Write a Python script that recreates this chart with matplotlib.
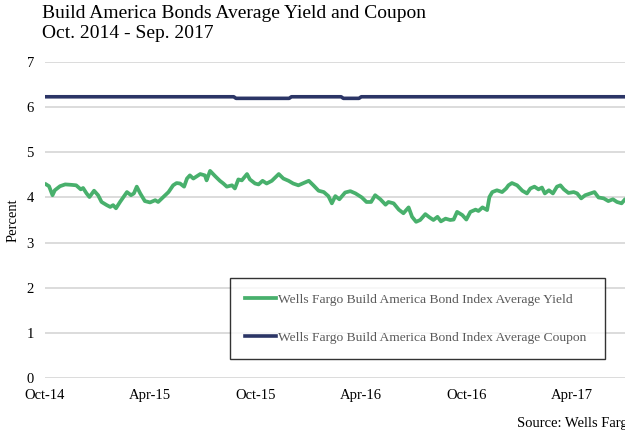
import matplotlib
matplotlib.use("Agg")
import matplotlib.pyplot as plt
import pandas as pd

# ---- data ----
start_date = "2014-10-01"
end_date = "2017-09-30"

yield_days = [2, 7, 13, 17, 26, 35, 46, 54, 62, 66, 72, 77, 85, 92, 98, 107, 113, 118,
              123, 130, 136, 142, 149, 154, 159, 165, 173, 182, 191, 196, 205, 214, 222,
              228, 234, 241, 246, 251, 257, 269, 277, 280, 286, 295, 303, 309, 315, 324,
              329, 335, 341, 350, 355, 364, 370, 377, 384, 393, 405, 413, 422, 430, 439,
              448, 457, 465, 474, 483, 491, 497, 503, 510, 520, 529, 538, 549, 557, 565,
              572, 581, 590, 595, 604, 613, 621, 630, 636, 643, 650, 659, 666, 673, 680,
              686, 694, 702, 708, 714, 723, 730, 737, 746, 751, 758, 766, 770, 775, 783,
              792, 799, 803, 809, 818, 827, 835, 841, 848, 855, 861, 866, 873, 880, 887,
              893, 899, 907, 916, 922, 929, 936, 945, 952, 959, 968, 976, 984, 991, 999,
              1005, 1012]
yield_pct = [4.29, 4.25, 4.05, 4.16, 4.25, 4.29, 4.28, 4.27, 4.18, 4.21, 4.09, 4.01, 4.15,
             4.05, 3.90, 3.83, 3.79, 3.83, 3.76, 3.90, 4.01, 4.12, 4.05, 4.09, 4.24, 4.09,
             3.92, 3.89, 3.94, 3.90, 4.01, 4.12, 4.27, 4.32, 4.31, 4.24, 4.42, 4.49, 4.42,
             4.52, 4.49, 4.38, 4.59, 4.47, 4.37, 4.31, 4.24, 4.27, 4.20, 4.40, 4.38, 4.52,
             4.40, 4.31, 4.29, 4.37, 4.31, 4.37, 4.52, 4.42, 4.37, 4.31, 4.27, 4.32, 4.37,
             4.27, 4.15, 4.12, 4.03, 3.87, 4.03, 3.96, 4.11, 4.14, 4.09, 4.00, 3.90, 3.90,
             4.05, 3.96, 3.84, 3.90, 3.87, 3.73, 3.65, 3.78, 3.57, 3.46, 3.50, 3.63, 3.56,
             3.50, 3.57, 3.47, 3.53, 3.50, 3.51, 3.68, 3.61, 3.51, 3.68, 3.73, 3.70, 3.78,
             3.72, 4.01, 4.12, 4.16, 4.12, 4.20, 4.27, 4.32, 4.27, 4.15, 4.09, 4.20, 4.24,
             4.18, 4.22, 4.09, 4.16, 4.09, 4.24, 4.27, 4.18, 4.10, 4.12, 4.09, 3.98, 4.05,
             4.09, 4.12, 4.00, 3.98, 3.92, 3.96, 3.90, 3.87, 3.96, 3.95]

coupon_days = [0, 327, 331, 423, 427, 513, 517, 544, 548, 1095]
coupon_pct = [6.235, 6.235, 6.20, 6.20, 6.235, 6.235, 6.20, 6.20, 6.235, 6.235]

tick_labels = ["Oct-14", "Apr-15", "Oct-15", "Apr-16", "Oct-16", "Apr-17"]
tick_dates = ["2014-10-01", "2015-04-01", "2015-10-01", "2016-04-01", "2016-10-01", "2017-04-01"]
y_ticks = [0, 1, 2, 3, 4, 5, 6, 7]

yield_label = "Wells Fargo Build America Bond Index Average Yield"
coupon_label = "Wells Fargo Build America Bond Index Average Coupon"
title = "Build America Bonds Average Yield and Coupon\nOct. 2014 - Sep. 2017"
source = "Source: Wells Fargo"

# ---- styling ----
SERIF = ["Liberation Serif", "DejaVu Serif"]
plt.rcParams["font.family"] = SERIF
GREEN = "#48B06C"
NAVY = "#2B3566"
FS = 10.5

base = pd.Timestamp(start_date)
yield_dates = [base + pd.Timedelta(days=d) for d in yield_days]
coupon_dates = [base + pd.Timedelta(days=d) for d in coupon_days]

fig = plt.figure(figsize=(6.25, 4.33), dpi=100)
W, H = 625, 433
left, right, top, bottom = 45, 677, 62.3, 377.7
ax = fig.add_axes([left / W, 1 - bottom / H, (right - left) / W, (bottom - top) / H])

ax.plot(yield_dates, yield_pct, color=GREEN, lw=2.7, solid_joinstyle="round", label=yield_label, zorder=3)
ax.plot(coupon_dates, coupon_pct, color=NAVY, lw=2.6, label=coupon_label, zorder=3)

ax.set_xlim(pd.Timestamp(start_date), pd.Timestamp(end_date))
ax.set_ylim(0, 7)
ax.set_yticks(y_ticks)
ax.set_xticks([pd.Timestamp(t) for t in tick_dates])
ax.set_xticklabels(tick_labels)
ax.tick_params(axis="both", length=0, labelsize=FS, colors="black")
ax.tick_params(axis="x", pad=8)
ax.tick_params(axis="y", pad=8)
ax.grid(axis="y", color="#D9D9D9", lw=1.3, zorder=0)
ax.grid(axis="x", visible=False)
for s in ax.spines.values():
    s.set_visible(False)
ax.set_ylabel("Percent", fontsize=FS, labelpad=5)

fig.text(42 / W, 1 - 5 / H, title, fontsize=14, va="top", ha="left", linespacing=1.2)
fig.text(517 / W, 1 - 423 / H, source, fontsize=FS, va="center", ha="left")

leg = ax.legend(loc="upper left", bbox_to_anchor=(230 / W, 1 - 357 / H, 375 / W, 79 / H),
                bbox_transform=fig.transFigure, mode="expand", frameon=True, fancybox=False,
                edgecolor="black", fontsize=9.7, handlelength=2.3, handletextpad=0.1,
                labelspacing=1.9, borderpad=1.15, borderaxespad=0)
leg.get_frame().set_linewidth(1.0)
for t in leg.get_texts():
    t.set_color("#595959")

fig.savefig("out.png", dpi=100)
